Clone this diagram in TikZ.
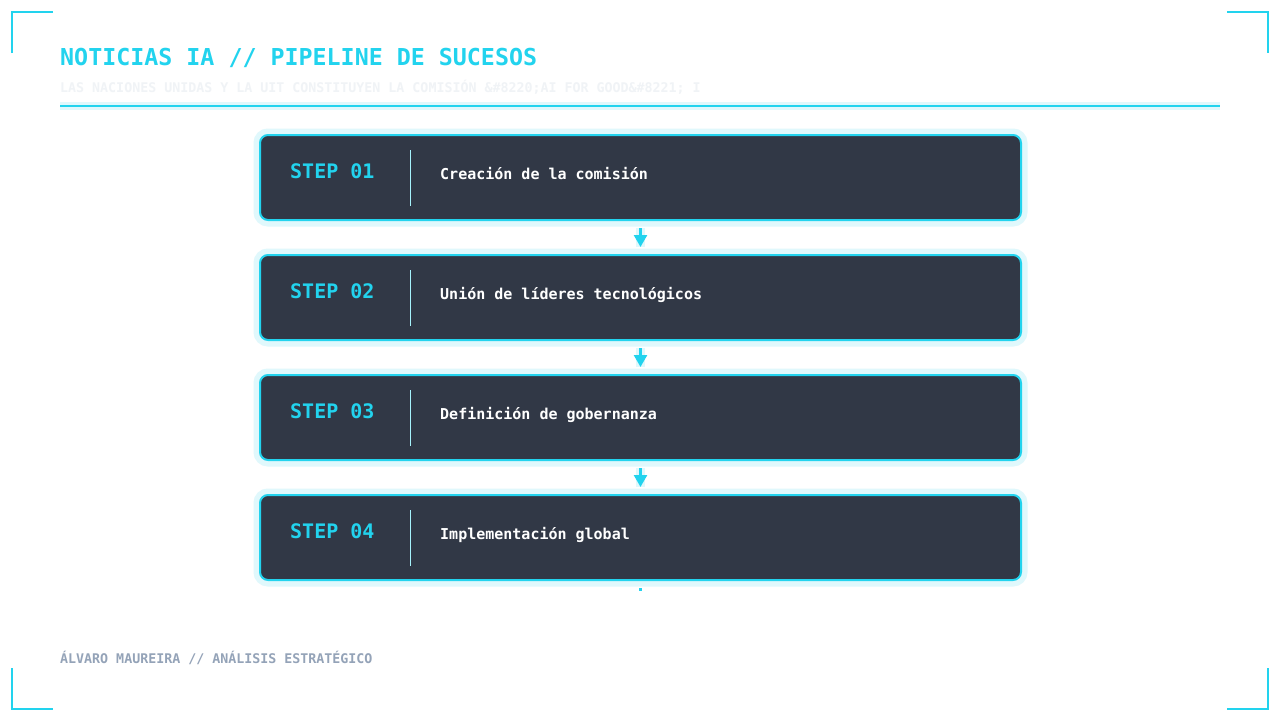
\documentclass[tikz,border=0pt]{standalone}
\usepackage{fontspec}
\setmonofont{DejaVu Sans Mono}
\usetikzlibrary{arrows.meta}
\definecolor{cyanA}{HTML}{22D3EE}
\definecolor{glowc}{HTML}{E0F8FC}
\definecolor{boxfill}{HTML}{313846}
\definecolor{divc}{HTML}{A5F3FC}
\definecolor{footc}{HTML}{94A3B8}
\definecolor{subc}{HTML}{F0F3F6}
\tikzset{
  stepbox/.style={draw=cyanA, line width=2pt, fill=boxfill, rounded corners=8pt,
    minimum width=761pt, minimum height=85pt, inner sep=0pt,
    preaction={draw=glowc, line width=13pt}},
  steplabel/.style={anchor=base west, inner sep=0pt, text=cyanA,
    font=\ttfamily\bfseries\fontsize{20}{24}\selectfont},
  stepdesc/.style={anchor=base west, inner sep=0pt, text=white,
    font=\ttfamily\bfseries\fontsize{15}{18}\selectfont},
  divider/.style={draw=divc, line width=1pt},
  conn/.style={draw=cyanA, line width=2.5pt, -{Triangle[width=13pt,length=12pt]},
    shorten <=7pt, shorten >=7pt},
  connhalo/.style={draw=glowc, line width=9pt, shorten <=7pt, shorten >=7pt},
  corner/.style={draw=cyanA, line width=2pt},
}
\begin{document}
\begin{tikzpicture}[x=1pt,y=-1pt]
\useasboundingbox (0,0) rectangle (1280,720);
\fill[white] (0,0) rectangle (1280,720);
% corners
\draw[corner] (12,53) -- (12,12) -- (53,12);
\draw[corner] (1227,12) -- (1268,12) -- (1268,53);
\draw[corner] (12,668) -- (12,709) -- (53,709);
\draw[corner] (1268,668) -- (1268,709) -- (1227,709);
% title
\node[anchor=base west, inner sep=0pt, text=cyanA, font=\ttfamily\bfseries\fontsize{23.3}{28}\selectfont] (title) at (60,65) {NOTICIAS IA // PIPELINE DE SUCESOS};
\node[anchor=base west, inner sep=0pt, text=subc, font=\ttfamily\bfseries\fontsize{13.3}{16}\selectfont] (subtitle) at (60,92) {LAS NACIONES UNIDAS Y LA UIT CONSTITUYEN LA COMISIÓN \&\#8220;AI FOR GOOD\&\#8221; I};
\coordinate (rl) at (60,106);
\coordinate (rr) at (1220,106);
\draw[glowc, line width=8pt] (rl) -- (rr);
\draw[cyanA, line width=2pt] (rl) -- (rr);
% boxes
\foreach \i/\y/\t in {1/177.5/Creación de la comisión,2/297.5/Unión de líderes tecnológicos,3/417.5/Definición de gobernanza,4/537.5/Implementación global}{
  \node[stepbox] (b\i) at (640.5,\y) {};
  \node[steplabel] (l\i) at (290,\y+0.5) {STEP 0\i};
  \node[stepdesc] (d\i) at (440,\y+1.5) {\t};
  \draw[divider] (410,\y-27.5) -- (410,\y+28.5);
}
% connectors
\foreach \a/\b in {1/2,2/3,3/4}{
  \draw[connhalo] (b\a.south) -- (b\b.north);
  \draw[conn] (b\a.south) -- (b\b.north);
}
\coordinate (tail) at (640.5,591);
\draw[draw=cyanA, line width=2.5pt, shorten <=7pt] (b4.south) -- (tail);
% footer
\node[anchor=base west, inner sep=0pt, text=footc, font=\ttfamily\bfseries\fontsize{13.3}{16}\selectfont] (footer) at (60,663) {ÁLVARO MAUREIRA // ANÁLISIS ESTRATÉGICO};
\end{tikzpicture}
\end{document}
